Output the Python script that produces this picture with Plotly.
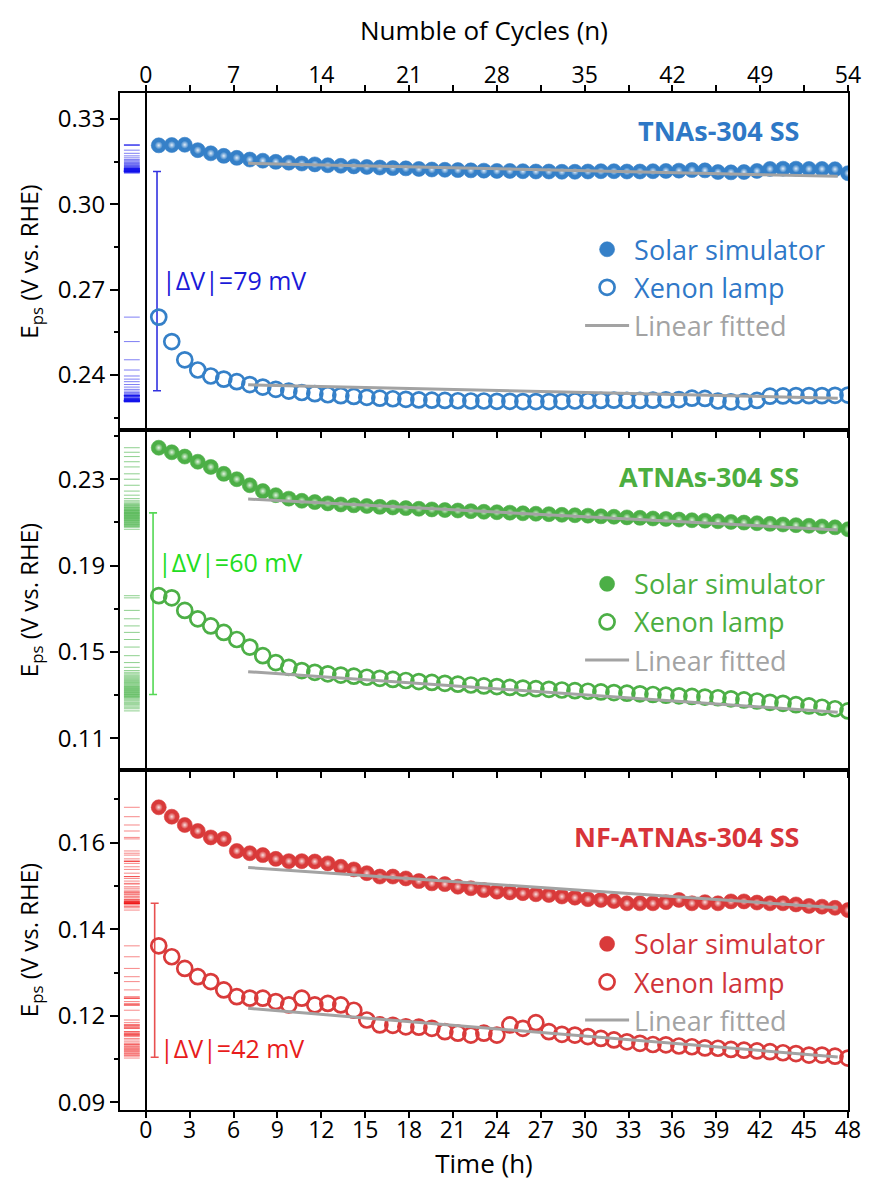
import plotly.graph_objects as go

# ---------------- data ----------------
cycles = list(range(1, 55))
total_hours, total_cycles = 48, 54
time_h = [c * total_hours / total_cycles for c in cycles]

top_tick_hours = [0, 6, 12, 18, 24, 30, 36, 42, 48]
top_tick_text = ["0", "7", "14", "21", "28", "35", "42", "49", "54"]

tnas_solar = [0.3207, 0.3208, 0.3209, 0.3190, 0.3179, 0.3170, 0.3163, 0.3157, 0.3153, 0.3149,
              0.3146, 0.3143, 0.3140, 0.3137, 0.3135, 0.3133, 0.3131, 0.3129, 0.3127, 0.3126,
              0.3124, 0.3122, 0.3121, 0.3120, 0.3119, 0.3118, 0.3117, 0.3117, 0.3116, 0.3115,
              0.3115, 0.3114, 0.3114, 0.3115, 0.3116, 0.3116, 0.3115, 0.3115, 0.3116, 0.3117,
              0.3118, 0.3120, 0.3119, 0.3113, 0.3112, 0.3113, 0.3117, 0.3124, 0.3125, 0.3125,
              0.3124, 0.3124, 0.3123, 0.3109]
tnas_xenon = [0.2603, 0.2517, 0.2453, 0.2417, 0.2396, 0.2385, 0.2376, 0.2366, 0.2357, 0.2349,
              0.2343, 0.2338, 0.2334, 0.2330, 0.2327, 0.2324, 0.2321, 0.2318, 0.2316, 0.2314,
              0.2312, 0.2311, 0.2310, 0.2309, 0.2308, 0.2308, 0.2307, 0.2307, 0.2306, 0.2306,
              0.2306, 0.2307, 0.2308, 0.2309, 0.2310, 0.2311, 0.2310, 0.2310, 0.2311, 0.2312,
              0.2313, 0.2318, 0.2317, 0.2308, 0.2305, 0.2306, 0.2310, 0.2325, 0.2326, 0.2327,
              0.2327, 0.2327, 0.2328, 0.2329]

atnas_solar = [0.2446, 0.2425, 0.2405, 0.2381, 0.2357, 0.2325, 0.2300, 0.2272, 0.2245, 0.2226,
               0.2210, 0.2200, 0.2194, 0.2188, 0.2183, 0.2179, 0.2176, 0.2172, 0.2169, 0.2166,
               0.2163, 0.2160, 0.2157, 0.2155, 0.2152, 0.2149, 0.2147, 0.2145, 0.2142, 0.2140,
               0.2138, 0.2135, 0.2133, 0.2131, 0.2128, 0.2126, 0.2123, 0.2121, 0.2118, 0.2116,
               0.2113, 0.2110, 0.2108, 0.2105, 0.2102, 0.2099, 0.2096, 0.2093, 0.2090, 0.2087,
               0.2084, 0.2081, 0.2077, 0.2068]
atnas_xenon = [0.1760, 0.1750, 0.1692, 0.1653, 0.1620, 0.1590, 0.1557, 0.1522, 0.1482, 0.1450,
               0.1428, 0.1413, 0.1405, 0.1398, 0.1392, 0.1387, 0.1382, 0.1377, 0.1372, 0.1367,
               0.1362, 0.1358, 0.1354, 0.1350, 0.1346, 0.1342, 0.1339, 0.1335, 0.1332, 0.1329,
               0.1326, 0.1323, 0.1320, 0.1317, 0.1314, 0.1311, 0.1308, 0.1305, 0.1302, 0.1299,
               0.1296, 0.1293, 0.1290, 0.1287, 0.1282, 0.1277, 0.1272, 0.1266, 0.1261, 0.1255,
               0.1249, 0.1243, 0.1236, 0.1226]

nf_solar = [0.1724, 0.1699, 0.1677, 0.1661, 0.1644, 0.1640, 0.1608, 0.1602, 0.1597, 0.1587,
            0.1581, 0.1581, 0.1580, 0.1575, 0.1566, 0.1559, 0.1549, 0.1540, 0.1540, 0.1535,
            0.1528, 0.1522, 0.1520, 0.1513, 0.1509, 0.1504, 0.1500, 0.1498, 0.1496, 0.1493,
            0.1491, 0.1487, 0.1484, 0.1480, 0.1478, 0.1475, 0.1469, 0.1469, 0.1469, 0.1472,
            0.1478, 0.1469, 0.1472, 0.1469, 0.1474, 0.1474, 0.1471, 0.1469, 0.1469, 0.1466,
            0.1462, 0.1460, 0.1457, 0.1451]
nf_xenon = [0.1356, 0.1327, 0.1296, 0.1274, 0.1261, 0.1239, 0.1221, 0.1217, 0.1217, 0.1208,
            0.1199, 0.1217, 0.1199, 0.1203, 0.1199, 0.1185, 0.1159, 0.1146, 0.1145, 0.1141,
            0.1140, 0.1137, 0.1128, 0.1124, 0.1119, 0.1124, 0.1119, 0.1146, 0.1137, 0.1152,
            0.1128, 0.1121, 0.1119, 0.1115, 0.1110, 0.1106, 0.1101, 0.1097, 0.1094, 0.1093,
            0.1090, 0.1088, 0.1085, 0.1084, 0.1081, 0.1079, 0.1077, 0.1075, 0.1072, 0.1070,
            0.1066, 0.1066, 0.1063, 0.1058]

# linear fits: time range and end values
fit_time = [7.0, 47.3]
tnas_fit_solar = [0.3144, 0.3098]
tnas_fit_xenon = [0.2365, 0.2318]
atnas_fit_solar = [0.2208, 0.2065]
atnas_fit_xenon = [0.1408, 0.1220]
nf_fit_solar = [0.1564, 0.1457]
nf_fit_xenon = [0.1190, 0.1061]

# |dV| bars: (time position, low, high, label)
dv_tnas = (0.77, 0.2344, 0.3115, "|ΔV|=79 mV")
dv_atnas = (0.50, 0.1302, 0.2144, "|ΔV|=60 mV")
dv_nf = (0.61, 0.1060, 0.1469, "|ΔV|=42 mV")
dv_label_y = [0.2734, 0.1914, 0.1084]

rug_time = [-1.49, -0.41]

panels = [
    dict(name="TNAs-304 SS", solar=tnas_solar, xenon=tnas_xenon, fs=tnas_fit_solar, fx=tnas_fit_xenon,
         dv=dv_tnas, dvy=dv_label_y[0], x="x3", y="y3", legend="legend",
         col="#3580c8", title_col="#2e78c6", leg_col="#2f78c8", dv_col="#1a1ad8", bar_col="#3333e0",
         rug_col="rgba(20,20,235,0.55)"),
    dict(name="ATNAs-304 SS", solar=atnas_solar, xenon=atnas_xenon, fs=atnas_fit_solar, fx=atnas_fit_xenon,
         dv=dv_atnas, dvy=dv_label_y[1], x="x2", y="y2", legend="legend2",
         col="#4caf46", title_col="#4cae40", leg_col="#4cae40", dv_col="#22dd22", bar_col="#55d855",
         rug_col="rgba(50,170,50,0.55)"),
    dict(name="NF-ATNAs-304 SS", solar=nf_solar, xenon=nf_xenon, fs=nf_fit_solar, fx=nf_fit_xenon,
         dv=dv_nf, dvy=dv_label_y[2], x="x", y="y", legend="legend3",
         col="#d93a3a", title_col="#d8343a", leg_col="#d0343a", dv_col="#e81c1c", bar_col="#e85050",
         rug_col="rgba(240,20,20,0.5)"),
]

FONT = "Open Sans"
GRAY = "#a3a3a3"

fig = go.Figure()

for p in panels:
    xa, ya, lg = p["x"], p["y"], p["legend"]
    # rug marks
    rx, ry = [], []
    for v in p["solar"] + p["xenon"]:
        rx += [rug_time[0], rug_time[1], None]
        ry += [v, v, None]
    fig.add_trace(go.Scatter(x=rx, y=ry, mode="lines", line=dict(color=p["rug_col"], width=1),
                             xaxis=xa, yaxis=ya, showlegend=False, hoverinfo="skip"))
    # |dV| bar
    t, lo, hi, lab = p["dv"]
    fig.add_trace(go.Scatter(x=[t], y=[(lo + hi) / 2], mode="markers",
                             marker=dict(size=1, color="rgba(0,0,0,0)"),
                             error_y=dict(type="data", array=[(hi - lo) / 2], width=4,
                                          thickness=1.6, color=p["bar_col"]),
                             xaxis=xa, yaxis=ya, showlegend=False, hoverinfo="skip"))
    fig.add_annotation(x=t + 0.2, y=p["dvy"], xref=xa, yref=ya, text=lab, showarrow=False,
                       xanchor="left", yanchor="middle",
                       font=dict(family=FONT, size=25, color=p["dv_col"]))
    # xenon (open circles)
    fig.add_trace(go.Scatter(x=time_h, y=p["xenon"], mode="markers", name="Xenon lamp",
                             marker=dict(symbol="circle-open", size=15, color=p["col"],
                                         line=dict(width=2.7, color=p["col"])),
                             xaxis=xa, yaxis=ya, legend=lg, legendgroup=lg + "b", legendrank=2))
    # solar (spheres)
    fig.add_trace(go.Scatter(x=time_h, y=p["solar"], mode="markers", name="Solar simulator",
                             marker=dict(symbol="circle", size=15, color=p["col"],
                                         line=dict(width=0.6, color=p["col"])),
                             xaxis=xa, yaxis=ya, legend=lg, legendgroup=lg + "a", legendrank=1))
    fig.add_trace(go.Scatter(x=time_h, y=p["solar"], mode="markers", showlegend=False,
                             marker=dict(symbol="circle", size=8, color="rgba(255,255,255,0)",
                                         gradient=dict(type="radial", color="rgba(255,255,255,0.85)"),
                                         line=dict(width=0)),
                             xaxis=xa, yaxis=ya, hoverinfo="skip"))
    # linear fits
    fig.add_trace(go.Scatter(x=fit_time, y=p["fs"], mode="lines",
                             name="<span style='color:%s'>Linear fitted</span>" % GRAY,
                             line=dict(color=GRAY, width=3),
                             xaxis=xa, yaxis=ya, legend=lg, legendgroup=lg + "c", legendrank=3))
    fig.add_trace(go.Scatter(x=fit_time, y=p["fx"], mode="lines", showlegend=False,
                             line=dict(color=GRAY, width=3), xaxis=xa, yaxis=ya))

# empty trace for the top cycles axis
fig.add_trace(go.Scatter(x=[None], y=[None], xaxis="x4", yaxis="y3", showlegend=False))

XR = [-1.76, 48]
xcommon = dict(range=XR, showline=True, linewidth=2, linecolor="black", mirror=True,
               ticks="outside", tickwidth=2, ticklen=6, tickcolor="black", tick0=0, dtick=3,
               zeroline=True, zerolinecolor="black", zerolinewidth=2, showgrid=False,
               tickfont=dict(family=FONT, size=23, color="black"))
ycommon = dict(showline=True, linewidth=2, linecolor="black", mirror=True,
               ticks="outside", tickwidth=2, ticklen=8, tickcolor="black",
               zeroline=False, showgrid=False, tickformat=".2f",
               tickfont=dict(family=FONT, size=24, color="black"),
               title=dict(text="E<sub>ps</sub> (V vs. RHE)", standoff=12,
                          font=dict(family=FONT, size=24, color="black")))

d1, d2 = 0.3343, 0.6686
fig.update_layout(
    width=873, height=1196,
    margin=dict(l=120, r=18, t=93, b=86),
    paper_bgcolor="white", plot_bgcolor="white",
    font=dict(family=FONT, color="black"),
    xaxis=dict(**xcommon, anchor="y", showticklabels=True, ticklabelstandoff=-8,
               title=dict(text="Time (h)", standoff=8, font=dict(family=FONT, size=26, color="black"))),
    xaxis2=dict(**xcommon, anchor="y2", matches="x", showticklabels=False),
    xaxis3=dict(**xcommon, anchor="y3", matches="x", showticklabels=False),
    xaxis4=dict(range=XR, overlaying="x3", anchor="y3", side="top", matches="x",
                tickmode="array", tickvals=top_tick_hours, ticktext=top_tick_text,
                ticks="outside", ticklen=7, tickwidth=2, tickcolor="black", ticklabelstandoff=-7,
                minor=dict(tick0=0, dtick=3, ticks="outside", ticklen=7, tickwidth=2, tickcolor="black"),
                showline=False, zeroline=False, showgrid=False,
                tickfont=dict(family=FONT, size=23, color="black"),
                title=dict(text="Numble of Cycles (n)", standoff=9,
                           font=dict(family=FONT, size=26, color="black"))),
    yaxis=dict(**ycommon, domain=[0, d1], range=[0.0920, 0.1823], tick0=0.094, dtick=0.023,
               minor=dict(dtick=0.0115, tick0=0.094, ticks="outside", ticklen=4, tickwidth=2, tickcolor="black")),
    yaxis2=dict(**ycommon, domain=[d1, d2], range=[0.0952, 0.2528], tick0=0.11, dtick=0.04,
                minor=dict(dtick=0.02, tick0=0.11, ticks="outside", ticklen=4, tickwidth=2, tickcolor="black")),
    yaxis3=dict(**ycommon, domain=[d2, 1], range=[0.2206, 0.3391], tick0=0.24, dtick=0.03,
                minor=dict(dtick=0.015, tick0=0.24, ticks="outside", ticklen=4, tickwidth=2, tickcolor="black")),
)

leg_pos = [0.870, 0.541, 0.187]
for p, ly, key in zip(panels, leg_pos, ["legend", "legend2", "legend3"]):
    fig.update_layout({key: dict(x=0.632, y=ly, xanchor="left", yanchor="top",
                                 bgcolor="rgba(0,0,0,0)", borderwidth=0, itemwidth=44,
                                 tracegroupgap=2, traceorder="normal",
                                 font=dict(family=FONT, size=27, color=p["leg_col"]))})

title_y = [0.9636, 0.6228, 0.2694]
for p, ty in zip(panels, title_y):
    fig.add_annotation(x=0.936, y=ty, xref="paper", yref="paper", text="<b>%s</b>" % p["name"],
                       showarrow=False, xanchor="right", yanchor="middle",
                       font=dict(family=FONT, size=27, color=p["title_col"]))

fig.write_html("out.html")
